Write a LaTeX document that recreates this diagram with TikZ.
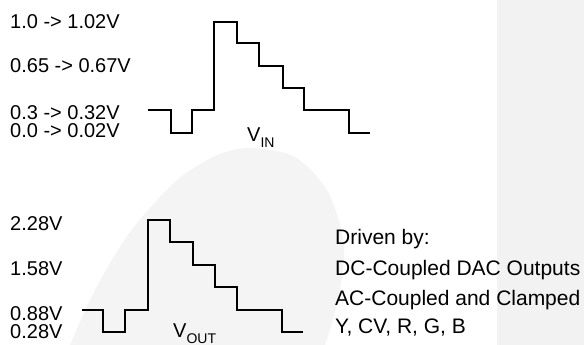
\documentclass[tikz,border=0pt]{standalone}
\usepackage{fontspec}
\setmainfont{Liberation Sans}
\usepackage{tikz}
\usetikzlibrary{positioning}

\definecolor{blobgray}{HTML}{F4F4F4}
\definecolor{panelgray}{HTML}{F2F2F2}

\tikzset{
	wave/.style={line width=2.4pt, line join=miter, black},
	lbl/.style={anchor=base west, inner sep=0pt, font=\fontsize{20}{24}\selectfont},
	note/.style={anchor=base west, inner sep=0pt, font=\fontsize{21}{25}\selectfont}
}
\newcommand{\sig}[1]{V\raisebox{-0.3em}{\fontsize{14}{14}\selectfont #1}}

\begin{document}
\begin{tikzpicture}[x=1pt,y=-1pt]
		\useasboundingbox (0,0) rectangle (584,345);
		% background
		\fill[panelgray] (497,0) rectangle (584,345);
		\fill[blobgray] plot[smooth] coordinates {(70,345) (95,290) (130,232) (175,182) (215,156) (250,148) (295,157) (328,192) (344,245) (338,300) (325,345)} -- cycle;
		% input levels
		\node[lbl] (in10) at (10,29) {1.0 -> 1.02V};
		\node[lbl] (in65) at (10,73) {0.65 -> 0.67V};
		\node[lbl] (in30) at (10,119) {0.3 -> 0.32V};
		\node[lbl] (in00) at (10,137) {0.0 -> 0.02V};
		\draw[wave] (148,110) -| (171,133) -| (192,110) -| (214,22) -| (237,43) -| (259,66) -| (283,88) -| (304,110) -| (349,133) -- (370,133);
		\node[lbl] (vin) at (247,141) {\sig{IN}};
		% output levels
		\node[lbl] (out228) at (10,230) {2.28V};
		\node[lbl] (out158) at (10,275) {1.58V};
		\node[lbl] (out088) at (10,320) {0.88V};
		\node[lbl] (out028) at (10,338) {0.28V};
		\draw[wave] (82,310) -| (103,332) -| (125,310) -| (148,220) -| (170,242) -| (193,265) -| (215,287) -| (237,310) -| (282,332) -- (303,332);
		\node[lbl] (vout) at (173,337) {\sig{OUT}};
		% sources
		\node[note] (drv) at (335,244) {Driven by:};
		\node[note] (dc) at (335,275) {DC-Coupled DAC Outputs};
		\node[note] (ac) at (335,305) {AC-Coupled and Clamped};
		\node[note] (ch) at (335,333) {Y, CV, R, G, B};
	\end{tikzpicture}
\end{document}
